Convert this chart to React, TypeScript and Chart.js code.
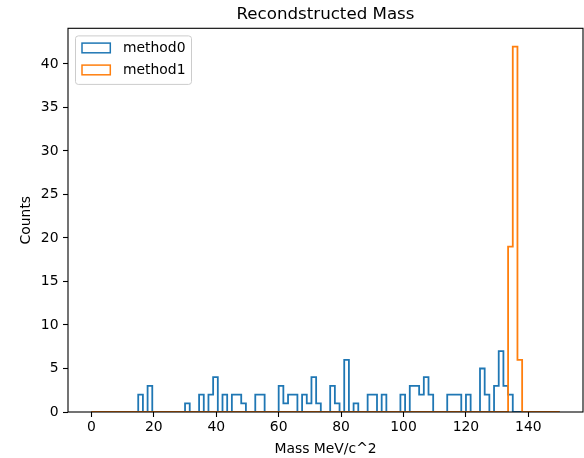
import React, { useEffect, useRef } from "react";
import { Chart, registerables } from "chart.js";

Chart.register(...registerables);

const TITLE = "Recondstructed Mass";
const X_LABEL = "Mass MeV/c^2";
const Y_LABEL = "Counts";
const BIN_START = 0;
const BIN_WIDTH = 1.5;
const SERIES_NAMES = ["method0", "method1"];
const SERIES_COLORS = ["#1f77b4", "#ff7f0e"];
const X_TICKS = [0, 20, 40, 60, 80, 100, 120, 140];
const Y_TICKS = [0, 5, 10, 15, 20, 25, 30, 35, 40];
const X_MIN = -7.5;
const X_MAX = 157.5;
const Y_MAX = 44.1;

// counts per 1.5-wide bin, 100 bins from 0 to 150
const method0Counts = [
  0, 0, 0, 0, 0, 0, 0, 0, 0, 0,
  2, 0, 3, 0, 0, 0, 0, 0, 0, 0,
  1, 0, 0, 2, 0, 2, 4, 0, 2, 0,
  2, 2, 1, 0, 0, 2, 2, 0, 0, 0,
  3, 1, 2, 2, 0, 2, 1, 4, 1, 0,
  0, 3, 1, 0, 6, 0, 1, 0, 0, 2,
  2, 0, 2, 0, 0, 0, 2, 0, 3, 3,
  2, 4, 2, 0, 0, 0, 2, 2, 2, 0,
  2, 0, 0, 5, 2, 0, 3, 7, 3, 2,
  0, 0, 0, 0, 0, 0, 0, 0, 0, 0,
];
const method1Counts = [
  0, 0, 0, 0, 0, 0, 0, 0, 0, 0,
  0, 0, 0, 0, 0, 0, 0, 0, 0, 0,
  0, 0, 0, 0, 0, 0, 0, 0, 0, 0,
  0, 0, 0, 0, 0, 0, 0, 0, 0, 0,
  0, 0, 0, 0, 0, 0, 0, 0, 0, 0,
  0, 0, 0, 0, 0, 0, 0, 0, 0, 0,
  0, 0, 0, 0, 0, 0, 0, 0, 0, 0,
  0, 0, 0, 0, 0, 0, 0, 0, 0, 0,
  0, 0, 0, 0, 0, 0, 0, 0, 0, 19,
  42, 6, 0, 0, 0, 0, 0, 0, 0, 0,
];

const FONT = '"DejaVu Sans", sans-serif';

function toSteps(counts: number[]) {
  const pts: { x: number; y: number }[] = [{ x: BIN_START, y: 0 }];
  counts.forEach((c, k) => pts.push({ x: BIN_START + k * BIN_WIDTH, y: c }));
  pts.push({ x: BIN_START + counts.length * BIN_WIDTH, y: 0 });
  return pts;
}

const decorPlugin = {
  id: "decor",
  afterDatasetsDraw(chart: any) {
    const { ctx, chartArea: a } = chart;
    ctx.save();
    ctx.strokeStyle = "#000";
    ctx.lineWidth = 1.1;
    ctx.strokeRect(a.left, a.top, a.right - a.left, a.bottom - a.top);
    ctx.restore();
  },
  afterDraw(chart: any) {
    const { ctx, chartArea: a } = chart;
    ctx.save();
    // title
    ctx.fillStyle = "#000";
    ctx.font = `16.67px ${FONT}`;
    ctx.textAlign = "center";
    ctx.textBaseline = "alphabetic";
    ctx.fillText(TITLE, (a.left + a.right) / 2, a.top - 9.8);

    // legend
    const bx = a.left + 7.5;
    const by = a.top + 7.6;
    const bw = 116;
    const bh = 48.5;
    const r = 2.8;
    ctx.beginPath();
    ctx.moveTo(bx + r, by);
    ctx.lineTo(bx + bw - r, by);
    ctx.arcTo(bx + bw, by, bx + bw, by + r, r);
    ctx.lineTo(bx + bw, by + bh - r);
    ctx.arcTo(bx + bw, by + bh, bx + bw - r, by + bh, r);
    ctx.lineTo(bx + r, by + bh);
    ctx.arcTo(bx, by + bh, bx, by + bh - r, r);
    ctx.lineTo(bx, by + r);
    ctx.arcTo(bx, by, bx + r, by, r);
    ctx.closePath();
    ctx.fillStyle = "rgba(255,255,255,0.8)";
    ctx.fill();
    ctx.strokeStyle = "#cccccc";
    ctx.lineWidth = 1;
    ctx.stroke();

    SERIES_NAMES.forEach((name, i) => {
      const cy = by + 12 + i * 22;
      ctx.strokeStyle = SERIES_COLORS[i];
      ctx.lineWidth = 1.5;
      ctx.strokeRect(bx + 6.5, cy - 4.8, 28.3, 9.7);
      ctx.fillStyle = "#000";
      ctx.font = `13.9px ${FONT}`;
      ctx.textAlign = "left";
      ctx.textBaseline = "middle";
      ctx.fillText(name, bx + 47.5, cy);
    });
    ctx.restore();
  },
};

export default function App() {
  const ref = useRef<HTMLCanvasElement | null>(null);

  useEffect(() => {
    if (!ref.current) return;
    const tickFont = { family: FONT, size: 13.9 };
    const chart = new Chart(ref.current, {
      type: "line",
      data: {
        datasets: [
          {
            label: SERIES_NAMES[0],
            data: toSteps(method0Counts),
            borderColor: SERIES_COLORS[0],
            borderWidth: 1.8,
            stepped: "before",
            pointRadius: 0,
            fill: false,
            order: 1,
          },
          {
            label: SERIES_NAMES[1],
            data: toSteps(method1Counts),
            borderColor: SERIES_COLORS[1],
            borderWidth: 1.8,
            stepped: "before",
            pointRadius: 0,
            fill: false,
            order: 0,
          },
        ],
      },
      options: {
        animation: false,
        responsive: false,
        devicePixelRatio: 1,
        layout: { padding: { top: 28.3, right: 1, left: 0, bottom: 0 } },
        plugins: {
          legend: { display: false },
          title: { display: false },
          tooltip: { enabled: false },
        },
        scales: {
          x: {
            type: "linear",
            min: X_MIN,
            max: X_MAX,
            afterBuildTicks: (s: any) => {
              s.ticks = X_TICKS.map((v) => ({ value: v }));
            },
            afterFit: (s: any) => {
              s.height = 46;
            },
            grid: {
              display: true,
              drawOnChartArea: false,
              drawTicks: true,
              tickLength: 5,
              tickColor: "#000",
              tickWidth: 1.1,
            },
            border: { display: false },
            ticks: { color: "#000", font: tickFont, padding: 2, maxRotation: 0 },
            title: {
              display: true,
              text: X_LABEL,
              color: "#000",
              font: tickFont,
              padding: { top: 0, bottom: 0 },
            },
          },
          y: {
            type: "linear",
            min: 0,
            max: Y_MAX,
            afterBuildTicks: (s: any) => {
              s.ticks = Y_TICKS.map((v) => ({ value: v }));
            },
            afterFit: (s: any) => {
              s.width = 68;
            },
            grid: {
              display: true,
              drawOnChartArea: false,
              drawTicks: true,
              tickLength: 5,
              tickColor: "#000",
              tickWidth: 1.1,
            },
            border: { display: false },
            ticks: { color: "#000", font: tickFont, padding: 4.5 },
            title: {
              display: true,
              text: Y_LABEL,
              color: "#000",
              font: tickFont,
              padding: { top: 18, bottom: 0 },
            },
          },
        },
      },
      plugins: [decorPlugin],
    } as any);
    return () => chart.destroy();
  }, []);

  return (
    <div style={{ position: "fixed", left: 0, top: 0, width: 584, height: 458, background: "#fff" }}>
      <canvas ref={ref} width={584} height={458} style={{ display: "block", width: 584, height: 458 }} />
    </div>
  );
}
